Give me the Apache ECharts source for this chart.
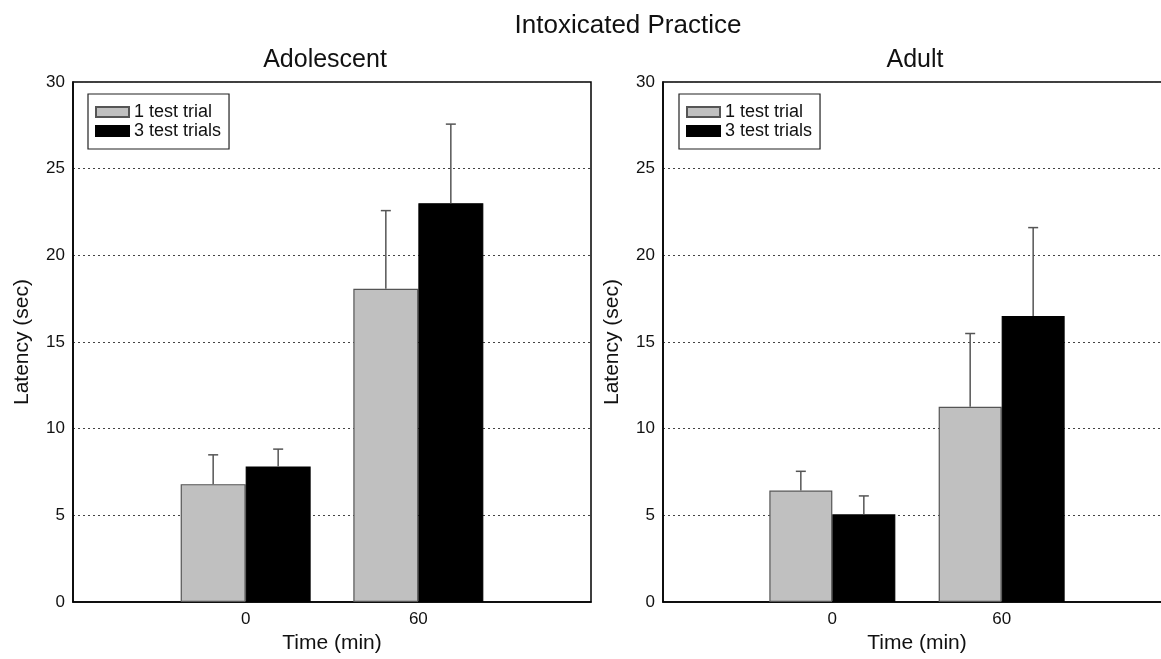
<!DOCTYPE html>
<html>
<head>
<meta charset="utf-8">
<script src="https://cdn.jsdelivr.net/npm/echarts@6/dist/echarts.min.js"></script>
<style>
html,body{margin:0;padding:0;background:#fff;}
#c{width:1161px;height:659px;}
</style>
</head>
<body>
<div id="c"></div>
<script>
// ---- data ----
const timeLabels = ['0', '60'];
const seriesNames = ['1 test trial', '3 test trials'];
const adolescentOne = [6.8, 18.07];
const adolescentOneSem = [1.69, 4.51];
const adolescentThree = [7.82, 23.01];
const adolescentThreeSem = [1.0, 4.56];
const adultOne = [6.43, 11.26];
const adultOneSem = [1.11, 4.23];
const adultThree = [5.06, 16.5];
const adultThreeSem = [1.06, 5.1];
const yTicks = [0, 5, 10, 15, 20, 25, 30];

// ---- helpers ----
const FONT = 'Liberation Sans, Arial, Helvetica, sans-serif';
const catData = [''].concat(timeLabels).concat(['']);
function padded(arr) { return [null].concat(arr).concat([null]); }
function errData(means, sems) {
  return means.map((m, i) => [i + 1, m, m + sems[i]]);
}
const colors = ['#c0c0c0', '#000000'];
const borders = ['#555555', '#000000'];
const barW = [65, 63];

function errRender(side, bw) {
  return function (params, api) {
    const c = api.value(0);
    const base = api.coord([c, api.value(1)]);
    const top = api.coord([c, api.value(2)]);
    const x = base[0] + side * bw / 2;
    return {
      type: 'group',
      children: [
        { type: 'line', shape: { x1: x, y1: base[1], x2: x, y2: top[1] },
          style: { stroke: '#555', lineWidth: 1.5 } },
        { type: 'line', shape: { x1: x - 5, y1: top[1], x2: x + 5, y2: top[1] },
          style: { stroke: '#555', lineWidth: 1.5 } }
      ]
    };
  };
}

const grids = [
  { left: 73, top: 82, width: 518, height: 520 },
  { left: 663, top: 82, width: 508, height: 520 }
];

function xAxis(i) {
  return {
    type: 'category', gridIndex: i, data: catData, boundaryGap: false,
    axisLine: { lineStyle: { color: '#000', width: 1.5 } },
    axisTick: { show: false },
    axisLabel: { fontSize: 17, color: '#111', fontFamily: FONT, margin: 9 },
    name: 'Time (min)', nameLocation: 'middle', nameGap: 30,
    nameTextStyle: { fontSize: 21, color: '#111', fontFamily: FONT },
    splitLine: { show: false }
  };
}
function yAxis(i) {
  return {
    type: 'value', gridIndex: i, min: yTicks[0], max: yTicks[yTicks.length - 1], interval: 5,
    axisLine: { show: true, lineStyle: { color: '#000', width: 1.5 } },
    axisTick: { show: false },
    axisLabel: { fontSize: 17, color: '#111', fontFamily: FONT, margin: 8 },
    name: 'Latency (sec)', nameLocation: 'middle', nameGap: 40, nameRotate: 90,
    nameTextStyle: { fontSize: 21, color: '#111', fontFamily: FONT },
    splitLine: { show: true, lineStyle: { type: [2, 3], color: '#444', width: 1 } }
  };
}

function barSeries(name, k, gi, data) {
  return {
    name: name, type: 'bar', xAxisIndex: gi, yAxisIndex: gi,
    data: padded(data), barWidth: barW[gi], barGap: '0%',
    itemStyle: { color: colors[k], borderColor: borders[k], borderWidth: 1.2 },
    emphasis: { disabled: true }, z: 3
  };
}
function errSeries(gi, side, means, sems) {
  return {
    type: 'custom', xAxisIndex: gi, yAxisIndex: gi,
    data: errData(means, sems), renderItem: errRender(side, barW[gi]),
    z: 4, silent: true
  };
}

function legend(left) {
  return {
    data: seriesNames, orient: 'vertical', left: left, top: 94,
    icon: 'rect', itemWidth: 33, itemHeight: 10, itemGap: 1,
    padding: [9, 8, 9, 7], borderColor: '#222', borderWidth: 1.2,
    textStyle: { fontSize: 18, color: '#111', fontFamily: FONT, lineHeight: 18 },
    selectedMode: false
  };
}

const option = {
  backgroundColor: '#fff',
  animation: false,
  title: [
    { text: 'Intoxicated Practice', left: 623, top: 8, textAlign: 'center',
      textStyle: { fontSize: 26, fontWeight: 'normal', color: '#111', fontFamily: FONT } },
    { text: 'Adolescent', left: 320, top: 43, textAlign: 'center',
      textStyle: { fontSize: 25, fontWeight: 'normal', color: '#111', fontFamily: FONT } },
    { text: 'Adult', left: 910, top: 43, textAlign: 'center',
      textStyle: { fontSize: 25, fontWeight: 'normal', color: '#111', fontFamily: FONT } }
  ],
  grid: grids.map(g => Object.assign({ show: true, borderColor: '#000', borderWidth: 1.5,
    backgroundColor: 'transparent', outerBoundsMode: 'none', containLabel: false }, g)),
  legend: [legend(88), legend(679)],
  xAxis: [xAxis(0), xAxis(1)],
  yAxis: [yAxis(0), yAxis(1)],
  series: [
    barSeries(seriesNames[0], 0, 0, adolescentOne),
    barSeries(seriesNames[1], 1, 0, adolescentThree),
    barSeries(seriesNames[0], 0, 1, adultOne),
    barSeries(seriesNames[1], 1, 1, adultThree),
    errSeries(0, -1, adolescentOne, adolescentOneSem),
    errSeries(0, 1, adolescentThree, adolescentThreeSem),
    errSeries(1, -1, adultOne, adultOneSem),
    errSeries(1, 1, adultThree, adultThreeSem)
  ]
};

const chart = echarts.init(document.getElementById('c'), null, { renderer: 'canvas' });
chart.setOption(option);
</script>
</body>
</html>
